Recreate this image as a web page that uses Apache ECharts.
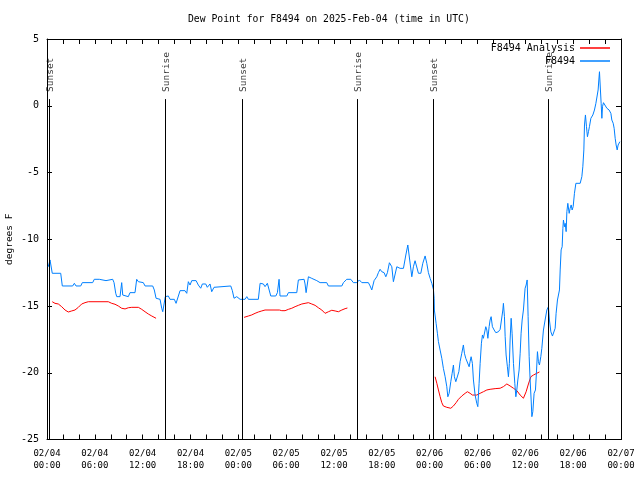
<!DOCTYPE html>
<html><head><meta charset="utf-8">
<script src="https://cdn.jsdelivr.net/npm/echarts@6/dist/echarts.min.js"></script>
<style>html,body{margin:0;padding:0;background:#fff}#c{width:640px;height:480px}</style>
</head><body><div id="c"></div>
<script>
const FONT = '"DejaVu Sans Mono", "Liberation Mono", monospace';
const chartTitle = 'Dew Point for F8494 on 2025-Feb-04 (time in UTC)';
const yAxisName = 'degrees F';
const xTickLabels = ['02/04\n00:00','02/04\n06:00','02/04\n12:00','02/04\n18:00','02/05\n00:00','02/05\n06:00','02/05\n12:00','02/05\n18:00','02/06\n00:00','02/06\n06:00','02/06\n12:00','02/06\n18:00','02/07\n00:00'];
const seriesNames = ['F8494 Analysis', 'F8494'];

// hours since 2025-02-04 00:00 UTC
const redHours = [0.66,1.00,1.42,1.84,2.26,2.67,3.10,3.51,3.93,4.35,4.77,5.18,7.69,8.12,8.53,8.95,9.37,9.79,10.20,10.63,11.46,11.88,12.30,12.71,13.14,13.68,
  19.0,
  24.72,25.26,25.68,26.10,26.51,26.94,27.35,29.15,29.45,29.86,30.28,30.70,31.12,31.53,31.96,32.37,32.79,33.21,33.63,34.04,34.47,34.88,35.30,35.72,36.14,36.55,36.98,37.39,37.68,
  43.0,
  48.68,48.90,49.10,49.31,49.52,49.72,50.15,50.65,50.98,51.32,51.61,52.03,52.45,52.73,53.07,53.36,53.58,53.91,54.33,54.74,55.17,55.58,56.21,56.84,57.25,57.68,58.09,58.51,58.93,59.35,59.76,60.10,60.39,60.69,61.02,61.44,61.77];
const redValues = [-14.68,-14.80,-14.85,-15.05,-15.30,-15.45,-15.37,-15.30,-15.10,-14.85,-14.75,-14.68,-14.68,-14.80,-14.87,-15.00,-15.17,-15.22,-15.13,-15.10,-15.10,-15.25,-15.43,-15.60,-15.75,-15.92,
  null,
  -15.85,-15.75,-15.67,-15.55,-15.45,-15.37,-15.30,-15.30,-15.35,-15.35,-15.25,-15.17,-15.05,-14.95,-14.85,-14.80,-14.75,-14.85,-14.95,-15.13,-15.30,-15.55,-15.43,-15.32,-15.37,-15.43,-15.30,-15.20,-15.15,
  null,
  -20.30,-20.79,-21.29,-21.79,-22.24,-22.49,-22.59,-22.66,-22.49,-22.24,-21.99,-21.74,-21.54,-21.42,-21.54,-21.67,-21.79,-21.67,-21.54,-21.42,-21.29,-21.24,-21.19,-21.16,-21.04,-20.84,-20.99,-21.16,-21.34,-21.67,-21.91,-21.42,-20.84,-20.30,-20.17,-20.04,-19.94];

const blueHours = [0.16,0.38,0.66,1.72,1.92,3.22,3.43,3.64,4.23,4.43,5.73,5.93,6.56,6.78,7.40,7.62,8.24,8.41,8.62,8.75,9.16,9.37,9.50,9.70,10.20,10.41,11.04,11.25,11.46,12.08,12.30,13.26,13.46,13.68,14.18,14.39,14.52,14.72,14.84,15.22,15.43,15.97,16.19,16.40,16.69,17.31,17.53,17.73,17.94,18.16,18.70,18.98,19.28,19.49,19.91,20.11,20.45,20.66,20.95,21.20,23.05,23.25,23.46,23.80,
  24.22,24.84,25.06,25.26,26.51,26.73,27.14,27.35,27.64,27.89,28.07,28.70,28.90,29.11,29.23,30.08,30.28,31.33,31.53,32.25,32.37,32.50,32.79,33.21,33.84,34.25,35.09,35.30,36.98,37.18,37.60,38.11,38.43,38.86,39.18,39.49,40.31,40.53,40.74,41.03,41.37,41.57,41.78,41.99,42.28,42.50,42.70,42.95,43.25,43.45,43.66,43.88,44.08,44.29,44.51,44.71,45.01,45.26,45.46,45.76,45.96,46.17,46.39,46.59,46.89,47.14,47.43,47.64,47.84,
  48.06,48.27,48.47,48.56,48.59,48.81,48.97,49.10,49.31,49.52,49.72,49.94,50.15,50.28,50.44,50.65,50.82,50.98,51.10,51.28,51.48,51.66,51.82,52.03,52.23,52.36,52.53,52.73,52.95,53.07,53.20,53.36,53.49,53.70,53.91,54.04,54.20,54.33,54.49,54.62,54.74,54.87,55.04,55.17,55.30,55.46,55.58,55.71,55.87,56.09,56.30,56.62,56.84,57.05,57.18,57.25,57.38,57.47,57.59,57.75,57.88,58.00,58.09,58.22,58.34,58.51,58.68,58.81,58.93,59.06,59.22,59.35,59.47,59.60,59.76,59.97,60.10,60.23,60.35,60.48,60.60,60.73,60.82,60.94,61.10,61.27,61.39,61.52,61.64,61.77,61.94,62.07,62.27,62.48,62.70,62.90,63.02,63.20,63.40,63.61,63.74,63.86,64.03,64.20,64.28,64.37,64.49,
  64.62,64.71,64.78,64.91,65.00,65.12,65.21,65.33,65.50,65.62,65.75,65.87,66.00,66.16,66.34,66.88,67.09,67.21,67.34,67.42,67.54,67.67,67.79,67.92,68.04,68.22,68.47,68.67,68.85,69.01,69.13,69.22,69.30,69.42,69.51,69.60,69.68,69.80,70.05,70.23,70.39,70.51,70.73,70.85,71.02,71.14,71.27,71.39,71.52,71.64,71.77,71.86];
const blueValues = [-12.06,-11.55,-12.55,-12.55,-13.5,-13.5,-13.3,-13.5,-13.5,-13.25,-13.25,-13.0,-13.0,-13.1,-13.1,-13.0,-13.0,-13.25,-14.05,-14.3,-14.3,-13.25,-14.18,-14.3,-14.3,-14.0,-14.0,-13.0,-13.18,-13.25,-13.5,-13.5,-13.8,-14.42,-14.5,-15.17,-15.43,-15.43,-14.3,-14.25,-14.5,-14.5,-14.8,-14.8,-13.85,-13.85,-14.05,-13.18,-13.43,-13.1,-13.1,-13.43,-13.67,-13.35,-13.35,-13.6,-13.35,-13.93,-13.6,-13.5,-13.5,-13.85,-14.42,-14.3,
  -14.5,-14.5,-14.3,-14.5,-14.5,-13.3,-13.35,-13.55,-13.3,-13.43,-14.25,-14.25,-14.0,-13.0,-14.25,-14.25,-14.0,-14.0,-13.05,-13.0,-13.35,-14.0,-12.81,-12.93,-13.1,-13.25,-13.25,-13.5,-13.5,-13.25,-13.0,-13.0,-13.25,-13.25,-13.05,-13.25,-13.25,-13.5,-13.8,-13.1,-12.81,-12.5,-12.25,-12.43,-12.5,-12.81,-12.5,-11.76,-12.06,-13.18,-13.18,-12.06,-12.06,-12.18,-12.1,-12.18,-11.18,-10.43,-10.56,-12.81,-12.06,-11.61,-11.61,-12.55,-12.55,-11.8,-11.25,-11.8,-12.5,
  -12.93,-13.3,-13.75,-14.42,-15.3,-16.3,-17.04,-17.67,-18.3,-18.92,-19.67,-20.3,-21.05,-21.8,-21.54,-20.67,-20.04,-19.42,-20.3,-20.67,-20.67,-19.92,-19.17,-18.54,-17.92,-18.54,-18.92,-18.92,-19.55,-19.17,-18.8,-19.3,-20.54,-21.67,-22.29,-22.54,-20.79,-19.3,-17.79,-17.17,-17.42,-17.3,-16.55,-16.8,-17.42,-16.55,-16.05,-15.8,-16.55,-16.8,-17.0,-16.93,-16.75,-16.67,-15.3,-14.8,-15.8,-17.3,-18.67,-19.55,-20.3,-19.3,-17.55,-15.92,-17.04,-19.3,-20.79,-21.8,-21.29,-20.54,-19.79,-18.54,-17.04,-16.05,-15.3,-13.67,-13.43,-13.05,-15.8,-18.8,-20.54,-22.04,-23.29,-22.92,-21.54,-21.29,-20.04,-18.42,-19.17,-19.42,-18.8,-18.17,-16.8,-16.05,-15.3,-15.05,-16.05,-16.93,-17.25,-17.25,-16.67,-15.55,-14.55,-14.42,-13.8,-12.3,-10.8,
  -10.56,-9.18,-8.56,-9.06,-8.81,-9.43,-7.94,-7.31,-8.06,-7.68,-7.43,-7.81,-7.56,-6.56,-5.81,-5.81,-5.31,-4.57,-3.31,-1.44,-0.69,-1.57,-2.32,-1.94,-1.57,-0.94,-0.69,-0.32,0.18,0.30,1.18,1.93,2.55,1.18,0.18,-0.94,-0.07,0.23,0.18,-0.19,-0.07,-0.32,-0.57,-1.07,-1.31,-1.69,-2.44,-2.94,-3.31,-2.94,-2.81,-2.69];

const eventNames = ['Sunset','Sunrise','Sunset','Sunrise','Sunset','Sunrise'];
const eventHours = [0.29, 14.84, 24.43, 38.93, 48.47, 62.90];
const eventLineTop = 0.5;   // degrees F where the marker line stops
const eventLabelBase = 1.03; // degrees F where the rotated label starts

const toPairs = (xs, ys) => xs.map((x, i) => [x, ys[i] === null ? '-' : ys[i]]);

const chart = echarts.init(document.getElementById('c'), null, {renderer: 'canvas'});
const axisCommonX = {
  type: 'value', min: 0, max: 72, interval: 6,
  axisLine: {onZero: false, lineStyle: {color: '#000', width: 1}},
  axisTick: {inside: true, length: 5, lineStyle: {color: '#000'}},
  minorTick: {show: true, splitNumber: 3, length: 5, lineStyle: {color: '#000'}},
  splitLine: {show: false}, minorSplitLine: {show: false}
};
const axisCommonY = {
  type: 'value', min: -25, max: 5, interval: 5,
  axisLine: {onZero: false, lineStyle: {color: '#000', width: 1}},
  axisTick: {inside: true, length: 5, lineStyle: {color: '#000'}},
  splitLine: {show: false}
};
const legendCommon = {
  orient: 'vertical', align: 'right', right: 30, padding: 0,
  itemWidth: 30, itemHeight: 1.5, icon: 'rect', selectedMode: false,
  textStyle: {fontFamily: FONT, fontSize: 10, color: '#000'}
};
chart.setOption({
  animation: false,
  backgroundColor: '#fff',
  title: {text: chartTitle, left: 188, top: 14, padding: 0,
    textStyle: {fontFamily: FONT, fontSize: 9.75, fontWeight: 'normal', color: '#000'}},
  legend: [
    Object.assign({data: [seriesNames[0]], top: 43}, legendCommon),
    Object.assign({data: [seriesNames[1]], top: 56}, legendCommon)
  ],
  grid: {left: 47, right: 19, top: 39, bottom: 40.5, containLabel: false, outerBoundsMode: 'none'},
  xAxis: [
    Object.assign({position: 'bottom', axisLabel: {
      formatter: v => xTickLabels[Math.round(v / 6)] || '',
      fontFamily: FONT, fontSize: 9, lineHeight: 12, color: '#000', margin: 8,
      showMinLabel: true, showMaxLabel: true, hideOverlap: false}}, axisCommonX),
    Object.assign({position: 'top', axisLabel: {show: false}}, axisCommonX)
  ],
  yAxis: [
    Object.assign({position: 'left', name: yAxisName, nameLocation: 'middle', nameGap: 32, nameMoveOverlap: false,
      nameTextStyle: {fontFamily: FONT, fontSize: 9.5, color: '#000'},
      axisLabel: {fontFamily: FONT, fontSize: 10, color: '#000', margin: 8}}, axisCommonY),
    Object.assign({position: 'right', axisLabel: {show: false}}, axisCommonY)
  ],
  series: [
    {name: seriesNames[0], type: 'line', data: toPairs(redHours, redValues), showSymbol: false, symbol: 'none',
      connectNulls: false, lineStyle: {color: '#ff0000', width: 1}, itemStyle: {color: '#ff0000'}, z: 2},
    {name: seriesNames[1], type: 'line', data: toPairs(blueHours, blueValues), showSymbol: false, symbol: 'none',
      lineStyle: {color: '#0080ff', width: 1}, itemStyle: {color: '#0080ff'}, z: 3},
    {name: 'events', type: 'scatter', symbolSize: 0, z: 4, silent: true,
      data: eventHours.map((h, i) => ({name: eventNames[i], value: [h, eventLabelBase]})),
      label: {show: true, formatter: '{b}', rotate: 90, position: 'inside', align: 'left', verticalAlign: 'middle',
        offset: [0, 1.5], fontFamily: FONT, fontSize: 9.5, color: '#000'},
      markLine: {silent: true, symbol: ['none', 'none'], animation: false,
        label: {show: false},
        lineStyle: {color: '#000', width: 1, type: 'solid'},
        data: eventHours.map(h => [{coord: [h, -25]}, {coord: [h, eventLineTop]}])}
    }
  ]
});
</script>
</body></html>
